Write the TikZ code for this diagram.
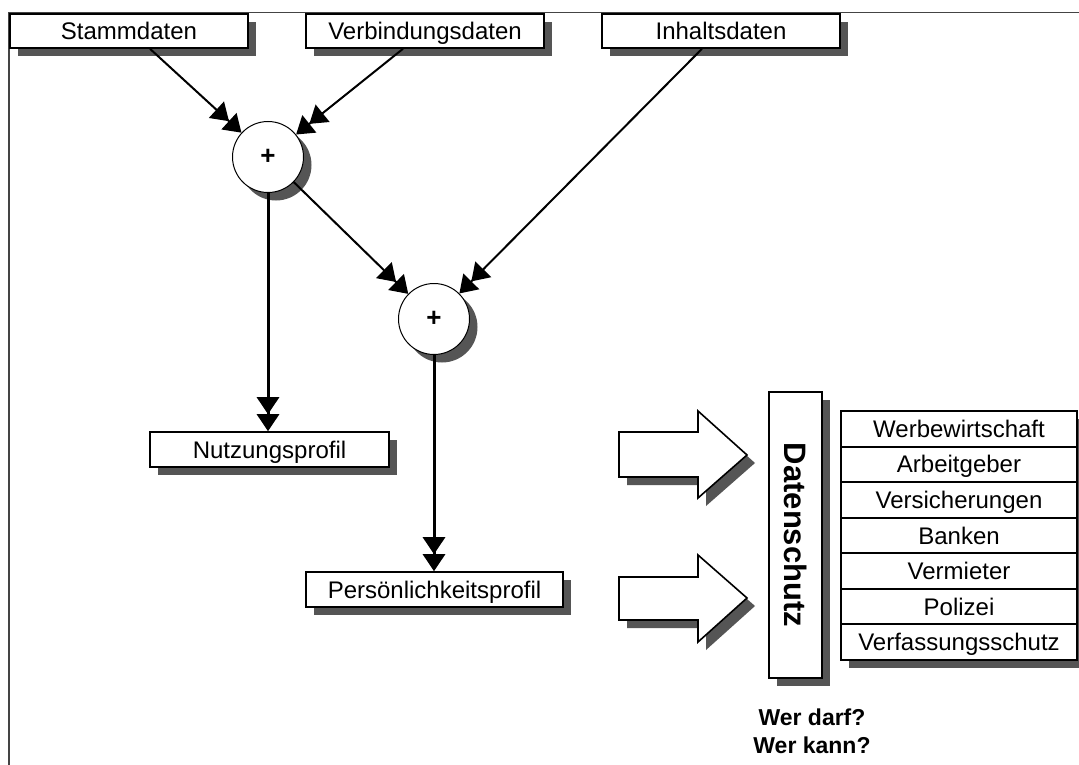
\documentclass[tikz,border=0pt]{standalone}
\usepackage{fontspec}
\setmainfont{Liberation Sans}
\usetikzlibrary{arrows.meta,shadows,calc}
\definecolor{sh}{HTML}{555555}
\definecolor{fr}{HTML}{444444}
\begin{document}
\begin{tikzpicture}[x=1pt,y=-1pt,
  shd/.style={drop shadow={shadow xshift=8pt,shadow yshift=-8pt,fill=sh,opacity=1}},
  txt/.style={font=\fontsize{24}{26}\selectfont,text height=17pt,text depth=0pt},
  databox/.style={draw=black,line width=1.6pt,fill=white,minimum height=34pt,inner sep=0pt,txt,shd},
  sumnode/.style={circle,draw=black,line width=1pt,fill=white,minimum size=71pt,inner sep=0pt,font=\fontsize{26}{28}\selectfont\bfseries,shd},
  rowbox/.style={draw=black,line width=2pt,fill=white,minimum width=236pt,minimum height=35.57pt,inner sep=0pt,txt},
  dsbox/.style={draw=black,line width=1.6pt,fill=white,minimum width=53pt,minimum height=286pt,inner sep=0pt,font=\fontsize{31}{33}\selectfont\bfseries,shd},
  blockarrow/.style={draw=black,line width=1.6pt,fill=white,line join=miter,shd},
  tips/.style={-{Triangle[length=17pt,width=22pt,fill=black]Triangle[length=17pt,width=22pt,fill=black]}},
  conn/.style={tips,line width=2pt},
  vconn/.style={tips,line width=3pt},
  frameline/.style={draw=fr,line width=1.2pt}
]
\useasboundingbox (0,0) rectangle (1079,765);
\fill[white] (0,0) rectangle (1079,765);
% frame
\draw[frameline] (9,765) -- (9,12.5) -- (1079,12.5);

% top data boxes
\node[databox,minimum width=238pt] (stamm)  at (129,31) {Stammdaten};
\node[databox,minimum width=238pt] (verb)   at (425,31) {Verbindungsdaten};
\node[databox,minimum width=238pt] (inhalt) at (721,31) {Inhaltsdaten};

% sum nodes
\node[sumnode] (c1) at (268,157) {+};
\node[sumnode] (c2) at (434,319) {+};

% profiles
\node[databox,minimum width=239pt,minimum height=35pt] (nutz) at (269.5,449.5) {Nutzungsprofil};
\node[databox,minimum width=257pt,minimum height=35pt] (pers) at (434.5,589.5) {Persönlichkeitsprofil};

% connectors
\draw[conn] ([xshift=21pt]stamm.south) -- (c1);
\draw[conn] ([xshift=-22pt]verb.south) -- (c1);
\draw[conn] (c1) -- (c2);
\draw[conn] ([xshift=-19pt]inhalt.south) -- (c2);
\draw[vconn] (c1) -- (c1 |- nutz.north);
\draw[vconn] (c2) -- (c2 |- pers.north);

% block arrows
\draw[blockarrow] (619,432) -- (698,432) -- (698,411) -- (747,455) -- (698,498) -- (698,477) -- (619,477) -- cycle;
\draw[blockarrow] (619,577) -- (698,577) -- (698,555) -- (747,598) -- (698,642) -- (698,620) -- (619,620) -- cycle;

% Datenschutz
\node[dsbox] (daten) at (795.5,535) {\rotatebox{-90}{Datenschutz}};

% list with shadow
\fill[sh] (849,419) rectangle (1085,668);
\node[rowbox] (l1) at (959,428.8) {Werbewirtschaft};
\node[rowbox] (l2) at (959,464.4) {Arbeitgeber};
\node[rowbox] (l3) at (959,499.9) {Versicherungen};
\node[rowbox] (l4) at (959,535.5) {Banken};
\node[rowbox] (l5) at (959,571.1) {Vermieter};
\node[rowbox] (l6) at (959,606.7) {Polizei};
\node[rowbox] (l7) at (959,642.2) {Verfassungsschutz};

% question
\node[align=center,font=\fontsize{23}{28}\selectfont\bfseries] (q) at (812,731) {Wer darf?\\Wer kann?};
\end{tikzpicture}
\end{document}
